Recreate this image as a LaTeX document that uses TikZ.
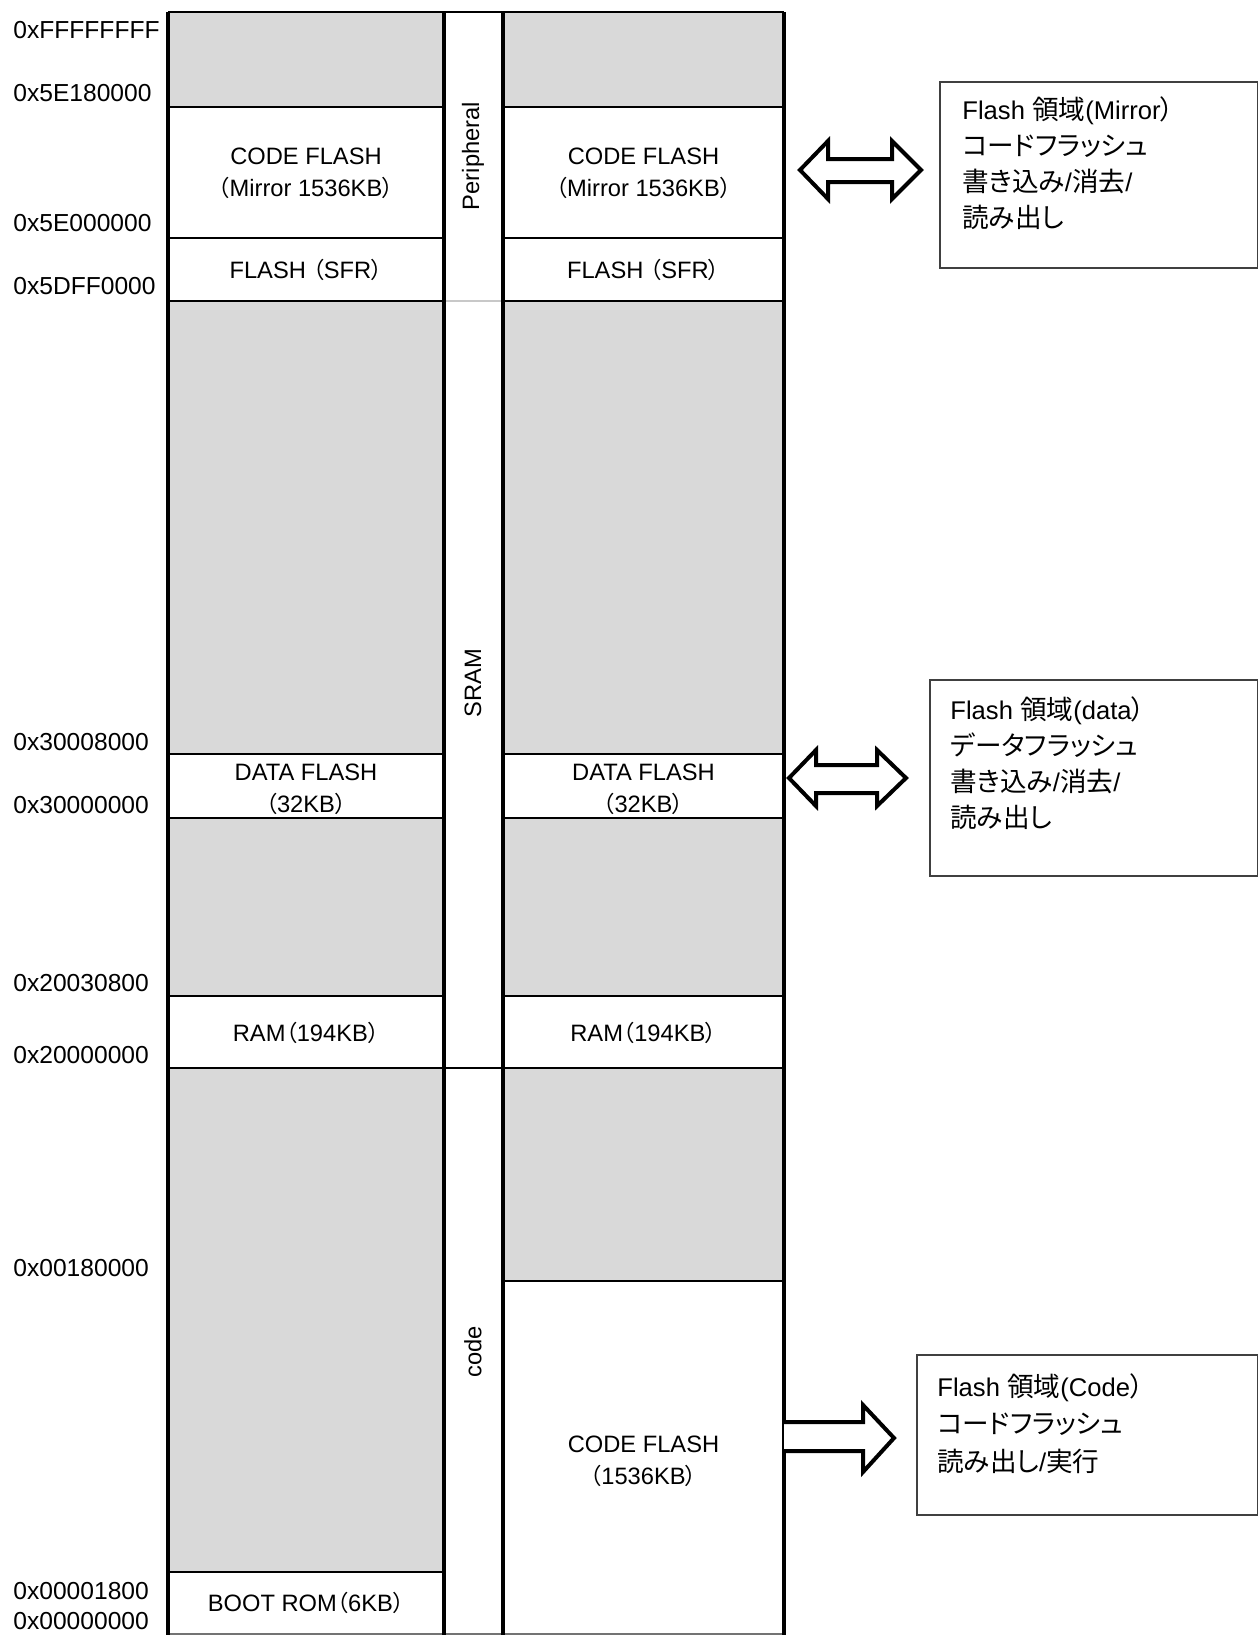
\documentclass[tikz,border=0pt]{standalone}
\usepackage{fontspec}
\setmainfont{Liberation Sans}
\newfontfamily\jp[Scale=1.04,RawFeature={+palt}]{Noto Sans CJK JP}
\newfontfamily\jpp[Scale=0.95,RawFeature={+palt}]{Noto Sans CJK JP}
\newcommand{\lpar}{{\jpp （}}
\newcommand{\rpar}{{\jpp ）}}
\definecolor{reserved}{HTML}{D9D9D9}
\definecolor{sepgray}{HTML}{C8C8C8}
\tikzset{
  txt/.style={inner sep=0pt, font=\fontsize{11.85pt}{16pt}\selectfont},
  addr/.style={inner sep=0pt, anchor=west, font=\fontsize{12.3pt}{16pt}\selectfont},
  blocktxt/.style={txt, align=center, anchor=center},
  region/.style={txt, rotate=90, anchor=center},
  note/.style={inner sep=0pt, anchor=north west, align=left, font=\fontsize{12.8pt}{18pt}\selectfont},
  notebox/.style={draw=black!75, line width=0.6pt},
  colline/.style={line width=1.7pt},
  rowline/.style={line width=1pt},
  blockarrow/.style={draw=black, fill=white, line width=2pt, line join=miter},
}
\begin{document}
\begin{tikzpicture}[x=0.5pt,y=-0.5pt]
\useasboundingbox (0,0) rectangle (1258,1635);

% ---- fills of the two address columns ----
\foreach \xa/\xb in {168/444, 503/784} {
  \fill[reserved] (\xa,12) rectangle (\xb,107);
  \fill[reserved] (\xa,301) rectangle (\xb,754);
  \fill[reserved] (\xa,818) rectangle (\xb,996);
}
\fill[reserved] (168,1068) rectangle (444,1572);
\fill[reserved] (503,1068) rectangle (784,1281);

% ---- row separators ----
\foreach \y in {12,107,238,301,754,818,996,1068} {
  \draw[rowline] (168,\y) -- (444,\y);
  \draw[rowline] (503,\y) -- (784,\y);
}
\draw[rowline] (168,1572) -- (444,1572);
\draw[rowline] (503,1281) -- (784,1281);
\draw[rowline] (444,12) -- (503,12);
\draw[rowline] (444,1068) -- (503,1068);
\draw[line width=0.6pt, sepgray] (444,301) -- (503,301);
\draw[line width=0.8pt, black!55] (168,1634) -- (784,1634);

% ---- column borders ----
\foreach \x in {168,444,503,784}
  \draw[colline] (\x,12) -- (\x,1635);

% ---- address labels ----
\node[addr] (aFFFF) at (13,30.5) {0xFFFFFFFF};
\node[addr] (a5E18) at (13,93.5) {0x5E180000};
\node[addr] (a5E00) at (13,223.5) {0x5E000000};
\node[addr] (a5DFF) at (13,286.5) {0x5DFF0000};
\node[addr] (a30008) at (13,742) {0x30008000};
\node[addr] (a3000) at (13,805) {0x30000000};
\node[addr] (a2003) at (13,983) {0x20030800};
\node[addr] (a2000) at (13,1055) {0x20000000};
\node[addr] (a0018) at (13,1268) {0x00180000};
\node[addr] (a00018) at (13,1591) {0x00001800};
\node[addr] (a0000) at (13,1621) {0x00000000};

% ---- left column contents ----
\node[blocktxt] (lmirror) at (306,173) {CODE FLASH\\\lpar Mirror 1536KB\rpar};
\node[blocktxt] (lsfr) at (306,270) {FLASH \lpar SFR\rpar};
\node[blocktxt] (ldata) at (306,789) {DATA FLASH\\\lpar 32KB\rpar};
\node[blocktxt] (lram) at (306,1033) {RAM\lpar 194KB\rpar};
\node[blocktxt] (lboot) at (306,1603) {BOOT ROM\lpar 6KB\rpar};

% ---- right column contents ----
\node[blocktxt] (rmirror) at (643.5,173) {CODE FLASH\\\lpar Mirror 1536KB\rpar};
\node[blocktxt] (rsfr) at (643.5,270) {FLASH \lpar SFR\rpar};
\node[blocktxt] (rdata) at (643.5,789) {DATA FLASH\\\lpar 32KB\rpar};
\node[blocktxt] (rram) at (643.5,1033) {RAM\lpar 194KB\rpar};
\node[blocktxt] (rcode) at (643.5,1461) {CODE FLASH\\\lpar 1536KB\rpar};

% ---- bus regions in the middle strip ----
\node[region] (periph) at (473,156) {Peripheral};
\node[region] (sram) at (473,683) {SRAM};
\node[region] (codereg) at (473,1352) {code};

% ---- description boxes ----
\draw[notebox] (940,82) rectangle (1257.5,268);
\node[note] (dmirror) at (962,96) {Flash {\jp 領域}(Mirror{\jp ）}\\{\jp コードフラッシュ}\\{\jp 書き込み}/{\jp 消去}/\\{\jp 読み出し}};

\draw[notebox] (930,680) rectangle (1257.5,876);
\node[note] (ddata) at (950,696) {Flash {\jp 領域}(data{\jp ）}\\{\jp データフラッシュ}\\{\jp 書き込み}/{\jp 消去}/\\{\jp 読み出し}};

\draw[notebox] (917,1355) rectangle (1257.5,1515);
\node[note, font=\fontsize{12.8pt}{18.7pt}\selectfont] (dcode) at (937,1373) {Flash {\jp 領域}(Code{\jp ）}\\{\jp コードフラッシュ}\\{\jp 読み出し}/{\jp 実行}};

% ---- block arrows ----
\draw[blockarrow] (800,170) -- (828,141) -- (828,159) -- (892,159) -- (892,141)
  -- (921,170) -- (892,199) -- (892,182) -- (828,182) -- (828,199) -- cycle;
\draw[blockarrow] (789,778) -- (816,750) -- (816,765) -- (877,765) -- (877,750)
  -- (906,778) -- (877,806) -- (877,793) -- (816,793) -- (816,806) -- cycle;
\draw[blockarrow] (784,1422) -- (863,1422) -- (863,1405) -- (894,1438)
  -- (863,1472) -- (863,1451) -- (784,1451);
\end{tikzpicture}
\end{document}
